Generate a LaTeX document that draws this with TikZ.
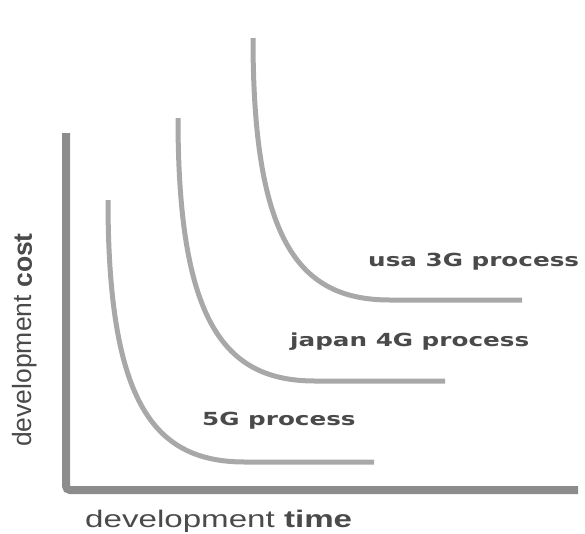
\documentclass[tikz,border=0pt]{standalone}
\usepackage{graphicx}
\usepackage{fontspec}
\setmainfont{Liberation Sans}
\newfontfamily\labelfont{DejaVu Sans}
\definecolor{axisgray}{HTML}{8C8C8C}
\definecolor{curvegray}{HTML}{A8A8A8}
\definecolor{textgray}{HTML}{4A4A4A}
\tikzset{
  axisline/.style={draw=axisgray, line width=8pt, rounded corners=4pt},
  costcurve/.style={draw=curvegray, line width=5pt},
  curvelabel/.style={text=textgray, inner sep=0pt, font=\labelfont\bfseries\fontsize{18}{20}\selectfont},
  axislabel/.style={text=textgray, inner sep=0pt, font=\fontsize{24}{26}\selectfont},
}
\newcommand{\wide}[1]{\scalebox{1.37}[1]{#1}}
\begin{document}
\begin{tikzpicture}[x=1pt, y=-1pt]
  \useasboundingbox (0,0) rectangle (585,533);
  % axes
  \draw[axisline] (66,133) -- (66,490) -- (578,490);
  % 5G curve
  \draw[costcurve] (108,200) .. controls (108,405) and (155,462) .. (245,462) -- (374,462);
  % japan 4G curve
  \draw[costcurve] (178,118) .. controls (178,323) and (225,381) .. (315,381) -- (445,381);
  % usa 3G curve
  \draw[costcurve] (253,38) .. controls (253,243) and (300,300) .. (390,300) -- (522,300);
  % labels
  \node[curvelabel, anchor=west] (usa) at (368,262) {\wide{usa 3G process}};
  \node[curvelabel, anchor=west] (japan) at (290,342) {\wide{japan 4G process}};
  \node[curvelabel, anchor=west] (fiveg) at (202,421) {\wide{5G process}};
  \node[axislabel, anchor=west] (xlab) at (85,521) {\scalebox{1.38}[1]{development \textbf{time}}};
  \node[axislabel, rotate=90, font=\fontsize{26.5}{28}\selectfont] (ylab) at (25,340) {development \textbf{cost}};
\end{tikzpicture}
\end{document}
